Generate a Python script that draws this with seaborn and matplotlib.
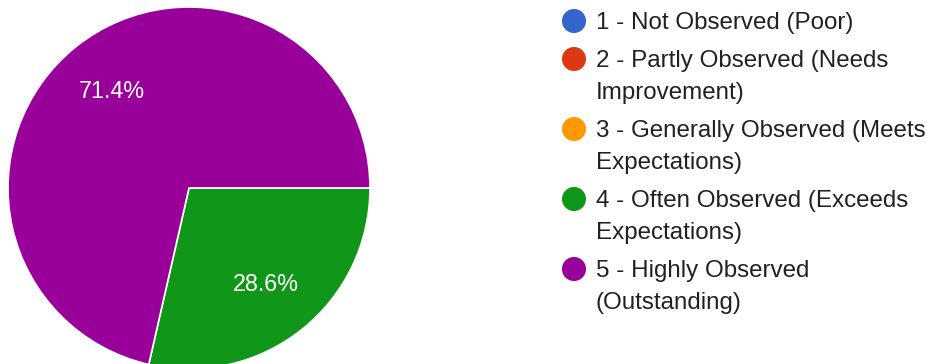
import matplotlib
matplotlib.use("Agg")
import matplotlib.pyplot as plt
import seaborn as sns
import pandas as pd

# Response counts per rating
categories = [
    "1 - Not Observed (Poor)",
    "2 - Partly Observed (Needs\nImprovement)",
    "3 - Generally Observed (Meets\nExpectations)",
    "4 - Often Observed (Exceeds\nExpectations)",
    "5 - Highly Observed\n(Outstanding)",
]
counts = [0, 0, 0, 2, 5]
colors = ["#3366cc", "#dc3912", "#ff9900", "#109618", "#990099"]

sns.set_theme(style="white")
plt.rcParams["font.family"] = ["Liberation Sans", "DejaVu Sans"]

W, H = 928, 364
fig = plt.figure(figsize=(W / 100, H / 100), dpi=100)

# Pie: center (189, 188), radius 181 px
cx, cy, r = 189, 188, 181
ax = fig.add_axes([(cx - r) / W, (H - cy - r) / H, 2 * r / W, 2 * r / H])
nz = [(c, col) for c, col in zip(counts, colors) if c > 0]
vals = [c for c, _ in nz]
cols = [col for _, col in nz]
wedges, texts, autotexts = ax.pie(
    vals, colors=cols, startangle=0, counterclock=False,
    autopct="%.1f%%", pctdistance=0.685, radius=1,
    wedgeprops=dict(edgecolor="white", linewidth=1.2),
    textprops=dict(color="white", fontsize=16.8),
)
ax.set_xlim(-1, 1)
ax.set_ylim(-1, 1)
ax.set_aspect("equal")
ax.axis("off")

# Legend drawn in pixel coordinates
lax = fig.add_axes([0, 0, 1, 1])
row_y = [21, 59, 129, 199, 269]
leg = pd.DataFrame({"x": [574] * 5, "y": row_y, "cat": categories})
sns.scatterplot(data=leg, x="x", y="y", hue="cat", palette=colors, s=300,
                edgecolor="none", legend=False, ax=lax)
lax.set_xlim(0, W)
lax.set_ylim(H, 0)
lax.axis("off")
for y, label in zip(row_y, categories):
    for k, line in enumerate(label.split("\n")):
        lax.text(596, y + 8.5 + 31 * k, line, fontsize=17.4, color="#212121",
                 va="baseline", ha="left")

fig.savefig("out.png", dpi=100)
